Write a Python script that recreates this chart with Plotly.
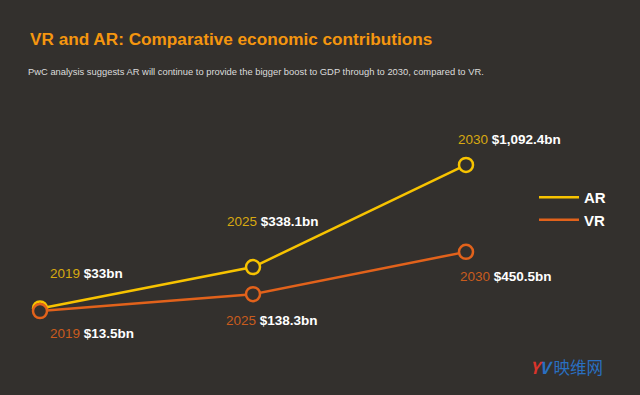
import plotly.graph_objects as go

# ---- data ----
years = ["2019", "2025", "2030"]
ar_values = [33.0, 338.1, 1092.4]
vr_values = [13.5, 138.3, 450.5]
ar_labels = ["$33bn", "$338.1bn", "$1,092.4bn"]
vr_labels = ["$13.5bn", "$138.3bn", "$450.5bn"]
series_names = ["AR", "VR"]

BG = "#33302d"
AR_COLOR = "#f7c300"
VR_COLOR = "#e2621b"
AR_YEAR = "#d8a911"
VR_YEAR = "#c95c1d"
FONT = "Liberation Sans, Arial, sans-serif"

fig = go.Figure()

for vals, col in [(ar_values, AR_COLOR), (vr_values, VR_COLOR)]:
    fig.add_trace(go.Scatter(
        x=years, y=vals, mode="lines+markers", showlegend=False,
        line=dict(color=col, width=2.5),
        marker=dict(symbol="circle", size=14, color=BG, line=dict(color=col, width=2.5)),
        hoverinfo="skip",
    ))

# legend-only traces (line only)
for name, col in zip(series_names, [AR_COLOR, VR_COLOR]):
    fig.add_trace(go.Scatter(x=[None], y=[None], mode="lines", name=name,
                             line=dict(color=col, width=2.5)))

# value labels: (xshift, yshift) in px relative to the point; yshift up positive
ar_offsets = [(8, 35), (-28, 46), (-10, 25)]
vr_offsets = [(8, -22), (-29, -26), (-8, -25)]

def add_labels(vals, labels, offsets, year_col):
    for i, (yr, v, lab, (dx, dy)) in enumerate(zip(years, vals, labels, offsets)):
        fig.add_annotation(
            x=i, y=v, xref="x", yref="y",
            text=f"<span style='color:{year_col}'>{yr}</span> <b>{lab}</b>",
            showarrow=False, xanchor="left", yanchor="middle",
            xshift=dx, yshift=dy,
            font=dict(family=FONT, size=13.5, color="#ffffff"),
        )

add_labels(ar_values, ar_labels, ar_offsets, AR_YEAR)
add_labels(vr_values, vr_labels, vr_offsets, VR_YEAR)

# title & subtitle
fig.add_annotation(
    x=28 / 640, y=1 - 39 / 395, xref="paper", yref="paper",
    text="<b>VR and AR: Comparative economic contributions</b>",
    showarrow=False, xanchor="left", yanchor="middle",
    font=dict(family=FONT, size=17.2, color="#f5960f"),
)
fig.add_annotation(
    x=26 / 640, y=1 - 72 / 395, xref="paper", yref="paper",
    text="PwC analysis suggests AR will continue to provide the bigger boost to GDP through to 2030, compared to VR.",
    showarrow=False, xanchor="left", yanchor="middle",
    font=dict(family=FONT, size=9.4, color="#dcdcdc"),
)

# watermark
fig.add_annotation(
    x=528 / 640, y=1 - 367 / 395, xref="paper", yref="paper",
    text="<b><i><span style='color:#d9342b'>Y</span><span style='color:#2a6fc0'>V</span></i></b> <span style='color:#2a6fc0'>映维网</span>",
    showarrow=False, xanchor="left", yanchor="middle",
    font=dict(family="Noto Sans CJK SC, sans-serif", size=16.5, color="#2a6fc0"),
)

x0 = -40 / 213.0
x1 = x0 + 640 / 213.0
y_top = 312.9 / 0.1355
y_bot = -(395 - 312.9) / 0.1355

fig.update_layout(
    width=640, height=395,
    margin=dict(l=0, r=0, t=0, b=0),
    paper_bgcolor=BG, plot_bgcolor=BG,
    xaxis=dict(type="category", range=[x0, x1], visible=False, fixedrange=True),
    yaxis=dict(range=[y_bot, y_top], visible=False, fixedrange=True),
    legend=dict(x=534 / 640, y=1 - 181 / 395, xanchor="left", yanchor="top",
                bgcolor="rgba(0,0,0,0)",
                font=dict(family=FONT, size=15, color="#ffffff", weight="bold"),
                itemwidth=40, tracegroupgap=0),
    showlegend=True,
)

fig.write_html("out.html", config={"displayModeBar": False},
               post_script="document.body.style.margin='0';")
